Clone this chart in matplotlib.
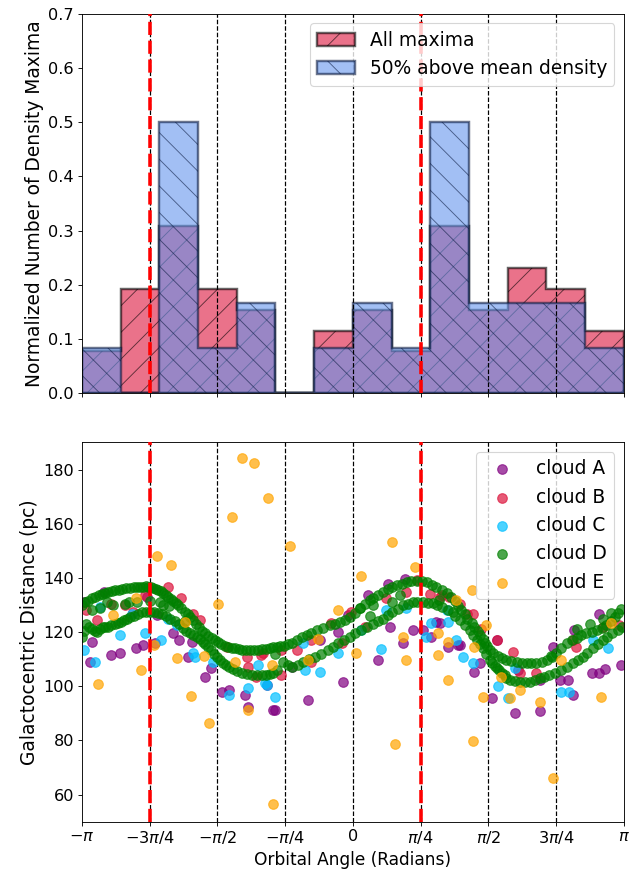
import numpy as np
import matplotlib
matplotlib.use("Agg")
import matplotlib.pyplot as plt

# histogram of density maxima (14 bins from -pi to pi)
all_maxima = [0.077, 0.192, 0.308, 0.192, 0.154, 0.0, 0.115,
              0.154, 0.077, 0.308, 0.154, 0.231, 0.192, 0.115]
above_mean = [0.083, 0.0, 0.5, 0.083, 0.167, 0.0, 0.083,
              0.167, 0.083, 0.5, 0.167, 0.167, 0.167, 0.083]

tick_labels = [r"$-\pi$", r"$-3\pi/4$", r"$-\pi/2$", r"$-\pi/4$", "0",
               r"$\pi/4$", r"$\pi/2$", r"$3\pi/4$", r"$\pi$"]
cloud_names = ["cloud A", "cloud B", "cloud C", "cloud D", "cloud E"]

# cloud A
a_x = [-3.12, -3.03, -3.05, -2.80, -2.70, -2.51, -2.43, -2.27, -2.29, -2.08,
       -2.02, -1.91, -1.87, -1.71, -1.64, -1.52, -1.44, -1.25, -1.21, -1.00,
       -0.92, -2.89, -2.39, -0.90, -0.71, -0.52, -0.38, -0.17, -0.11, -0.05,
       0.18, 0.29, 0.41, 0.43, 0.58, 0.70, 0.60, 0.81, 0.91, 0.97,
       1.10, 1.22, 1.24, 1.41, 1.47, 1.61, 1.67, 1.88, 1.92, 2.17,
       2.17, 2.32, 2.40, 2.49, 2.55, 2.57, 2.77, 2.86, 2.92, 2.86,
       3.11, 1.01]
a_y = [131.0, 116.4, 109.0, 111.5, 112.4, 114.0, 115.2, 126.2, 116.0, 119.5,
       117.0, 110.9, 116.4, 103.5, 106.6, 98.0, 98.6, 96.8, 92.5, 100.5,
       91.3, 134.8, 133.0, 91.3, 107.2, 95.0, 117.0, 120.0, 101.7, 126.2,
       133.6, 109.7, 137.9, 121.9, 115.8, 120.7, 139.7, 120.7, 118.2, 123.8,
       114.6, 115.2, 115.2, 105.4, 108.5, 95.6, 117.0, 90.1, 106.0, 90.7,
       102.3, 114.6, 102.3, 102.3, 96.8, 120.7, 104.8, 104.8, 106.3, 126.8,
       107.8, 123.2]

# cloud B
b_x = [-3.09, -2.97, -2.64, -2.41, -2.14, -1.99, -1.85, -1.77, -1.46, -1.21,
       -1.12, -1.06, -1.23, -1.04, -0.83, -0.83, -0.65, -0.48, -0.48, -0.25,
       -0.13, -0.02, 0.14, 0.39, 0.62, 0.74, 0.89, 1.03, 1.12, 1.24,
       1.32, 1.39, 1.49, 1.67, 1.86, 1.94, 2.13, 2.55, 2.59, 2.90,
       3.09, 1.01, -2.80, -2.55]
b_y = [128.0, 124.4, 129.9, 133.6, 136.6, 132.4, 126.8, 124.4, 114.6, 107.2,
       103.5, 111.5, 110.9, 112.1, 113.3, 104.2, 113.3, 109.0, 117.0, 123.2,
       115.8, 127.4, 121.9, 132.4, 134.8, 139.1, 134.2, 133.6, 132.9, 130.5,
       126.8, 126.8, 121.3, 117.0, 112.7, 104.8, 104.8, 117.0, 114.6, 121.9,
       122.5, 132.9, 130.5, 127.5]

# cloud C
c_x = [-3.12, -2.99, -2.93, -2.70, -2.56, -2.41, -2.22, -2.14, -2.04, -1.85,
       -1.83, -1.62, -1.44, -1.21, -1.10, -1.00, -0.90, -1.02, -0.56, -0.38,
       -0.17, -0.58, 0.10, 0.33, 0.39, 0.62, 0.85, 0.91, 1.10, 1.20,
       1.09, 1.28, 1.39, 1.68, 1.80, 1.88, 2.42, 2.51, 2.78, 2.96]
c_y = [113.3, 109.0, 129.3, 118.9, 126.8, 119.5, 117.0, 125.0, 122.5, 112.1,
       110.9, 109.0, 96.8, 99.3, 107.8, 100.5, 96.2, 101.1, 106.0, 105.4,
       112.4, 115.8, 120.7, 113.6, 128.0, 128.7, 118.2, 123.2, 123.8, 117.0,
       128.0, 110.9, 108.5, 99.9, 95.6, 106.6, 98.0, 98.0, 117.0, 114.0]

# cloud D, upper track
d_up_x = [-3.14, -3.11, -3.07, -3.02, -2.99, -2.94, -2.91, -2.87, -2.84, -2.79,
          -2.76, -2.71, -2.68, -2.63, -2.58, -2.54, -2.50, -2.47, -2.43, -2.40,
          -2.38, -2.34, -2.32, -2.28, -2.26, -2.22, -2.20, -2.17, -2.14, -2.11,
          -2.09, -2.05, -2.03, -1.99, -1.95, -1.91, -1.89, -1.85, -1.82, -1.78,
          -1.75, -1.71, -1.68, -1.63, -1.60, -1.56, -1.53, -1.48, -1.45, -1.40,
          -1.37, -1.32, -1.29, -1.24, -1.19, -1.15, -1.10, -1.05, -1.01, -0.96,
          -0.93, -0.88, -0.85, -0.80, -0.75, -0.71, -0.65, -0.59, -0.53, -0.48,
          -0.41, -0.34, -0.27, -0.21, -0.15, -0.09, -0.03, 0.02, 0.08, 0.14,
          0.20, 0.24, 0.29, 0.35, 0.41, 0.45, 0.51, 0.57, 0.63, 0.68,
          0.74, 0.80, 0.86, 0.92, 0.97, 1.03, 1.09, 1.14, 1.18, 1.22,
          1.26, 1.30, 1.33, 1.38, 1.41, 1.45, 1.47, 1.51, 1.53, 1.56,
          1.59, 1.63, 1.68, 1.73, 1.78, 1.84, 1.90, 1.96, 2.02, 2.07,
          2.13, 2.19, 2.25, 2.31, 2.36, 2.42, 2.48, 2.54, 2.60, 2.65,
          2.71, 2.77, 2.83, 2.89, 2.94, 2.99, 3.04, 3.07, 3.11]
d_up_y = [130.0, 131.0, 131.5, 132.5, 133.0, 133.5, 134.0, 134.5, 134.8, 135.0,
          135.4, 135.7, 136.0, 136.2, 136.3, 136.5, 136.6, 136.8, 136.8, 137.0,
          136.5, 136.5, 136.2, 136.0, 135.5, 135.0, 134.5, 133.8, 133.0, 132.2,
          131.5, 130.8, 130.0, 129.0, 127.5, 126.5, 125.5, 124.5, 123.0, 121.8,
          120.5, 119.5, 118.5, 117.8, 117.0, 116.2, 115.5, 115.0, 114.5, 114.2,
          114.0, 113.7, 113.5, 113.4, 113.3, 113.3, 113.4, 113.6, 113.8, 114.0,
          114.3, 114.5, 114.8, 115.0, 115.5, 116.0, 117.0, 118.0, 119.0, 119.8,
          120.7, 121.6, 122.5, 123.0, 123.6, 124.5, 125.5, 127.0, 128.8, 130.2,
          131.7, 132.7, 133.6, 134.8, 136.0, 136.6, 137.2, 137.8, 138.3, 138.7,
          139.0, 138.8, 138.3, 137.5, 136.5, 135.4, 134.3, 133.0, 131.5, 129.8,
          128.0, 126.5, 125.0, 123.5, 122.0, 120.5, 119.0, 117.5, 116.0, 114.7,
          113.5, 112.2, 111.0, 110.3, 109.7, 109.3, 109.0, 108.7, 108.5, 108.5,
          108.5, 109.0, 109.7, 110.8, 112.2, 114.0, 116.0, 117.0, 117.8, 118.8,
          119.6, 120.2, 120.7, 121.6, 122.5, 124.0, 125.5, 127.0, 128.5]

# cloud D, lower track
d_lo_x = [-3.14, -3.12, -3.09, -3.06, -3.02, -2.99, -2.97, -2.93, -2.90, -2.87,
          -2.84, -2.80, -2.76, -2.72, -2.69, -2.65, -2.62, -2.58, -2.54, -2.49,
          -2.45, -2.40, -2.35, -2.31, -2.26, -2.21, -2.17, -2.12, -2.06, -2.02,
          -1.97, -1.94, -1.89, -1.85, -1.81, -1.77, -1.74, -1.71, -1.68, -1.65,
          -1.61, -1.58, -1.54, -1.51, -1.47, -1.44, -1.39, -1.34, -1.29, -1.23,
          -1.17, -1.11, -1.05, -1.01, -0.96, -0.92, -0.88, -0.81, -0.75, -0.70,
          -0.64, -0.58, -0.51, -0.44, -0.37, -0.29, -0.23, -0.17, -0.10, -0.03,
          0.03, 0.10, 0.16, 0.23, 0.29, 0.35, 0.41, 0.46, 0.52, 0.58,
          0.64, 0.70, 0.75, 0.81, 0.87, 0.93, 0.98, 1.04, 1.10, 1.16,
          1.19, 1.24, 1.30, 1.36, 1.39, 1.44, 1.47, 1.51, 1.54, 1.59,
          1.61, 1.65, 1.67, 1.70, 1.73, 1.76, 1.78, 1.82, 1.88, 1.94,
          2.00, 2.05, 2.11, 2.17, 2.22, 2.28, 2.35, 2.42, 2.48, 2.55,
          2.61, 2.67, 2.72, 2.78, 2.84, 2.90, 2.95, 3.01, 3.07, 3.12]
d_lo_y = [118.0, 120.5, 123.0, 122.0, 121.0, 120.5, 120.0, 121.0, 122.0, 122.0,
          122.0, 122.5, 123.0, 123.3, 123.6, 124.3, 125.0, 125.5, 126.0, 126.6,
          127.3, 127.5, 127.5, 127.3, 127.0, 126.5, 126.0, 125.0, 124.0, 122.8,
          121.5, 120.5, 119.5, 118.8, 118.0, 117.3, 116.5, 115.5, 114.5, 113.2,
          112.0, 110.7, 109.5, 108.7, 108.0, 107.2, 106.5, 105.8, 105.0, 104.5,
          104.0, 104.0, 104.0, 104.2, 104.5, 105.0, 106.0, 109.0, 108.0, 107.0,
          108.0, 109.0, 110.0, 110.8, 112.0, 113.3, 114.6, 116.0, 117.0, 118.2,
          119.5, 120.7, 121.8, 122.9, 124.0, 125.0, 126.2, 127.3, 128.6, 129.9,
          130.5, 131.0, 131.0, 131.0, 130.8, 130.6, 130.0, 129.2, 128.3, 127.3,
          126.0, 124.4, 122.5, 120.7, 119.0, 117.0, 115.5, 114.0, 112.0, 109.7,
          108.6, 107.5, 106.8, 106.0, 105.0, 104.0, 103.0, 102.3, 102.0, 101.6,
          101.6, 101.6, 102.3, 103.0, 103.5, 104.0, 105.0, 106.0, 107.2, 108.5,
          109.7, 110.8, 112.4, 114.0, 115.5, 117.0, 118.3, 119.6, 120.7, 121.8]

# cloud D, loose points between the tracks
d_mid_x = [-3.02, -2.93, -2.85, -2.78, -2.64, -2.60, -2.50, -2.35, -2.24, -2.20,
           -2.13, -1.95, -0.90, 0.08, 0.20, 0.23, 0.46, 0.55, 1.00, 2.30,
           2.60, 2.75, 2.90, 3.00]
d_mid_y = [128.0, 129.0, 131.0, 130.0, 130.5, 131.0, 131.0, 131.5, 131.0, 130.0,
           129.5, 124.0, 112.0, 128.8, 126.0, 129.9, 131.0, 133.5, 132.0, 111.0,
           121.0, 123.0, 125.0, 127.0]

d_x = d_up_x + d_lo_x + d_mid_x
d_y = d_up_y + d_lo_y + d_mid_y

# cloud E
e_x = [-1.29, -1.14, -1.40, -0.98, -2.27, -2.11, -2.51, -2.78, -2.96, -2.46,
       -2.31, -2.04, -1.95, -1.88, -1.72, -1.67, -1.56, -1.37, -1.21, -0.94,
       -0.92, -0.73, -0.52, -0.40, -0.17, 0.04, 0.10, 0.45, 0.49, 0.58,
       0.62, 0.72, 0.99, 0.99, 1.10, 1.10, 1.20, 1.38, 1.41, 1.51,
       1.55, 1.39, 1.72, 1.82, 1.94, 2.17, 2.32, 2.42, 2.88, 3.00]
e_y = [184.3, 182.4, 162.3, 169.6, 147.9, 144.6, 132.4, 126.2, 100.7, 106.0,
       115.2, 110.3, 123.8, 96.4, 111.1, 86.6, 130.5, 109.0, 91.3, 107.8,
       56.5, 151.9, 109.7, 117.6, 128.3, 112.1, 140.6, 153.2, 78.8, 118.2,
       109.7, 144.2, 119.5, 111.5, 102.3, 116.4, 131.7, 135.4, 114.6, 96.2,
       122.5, 79.6, 103.5, 95.6, 98.6, 94.3, 66.2, 109.7, 96.2, 123.2]

plt.rcParams["font.size"] = 14.5
plt.rcParams["hatch.linewidth"] = 0.8

fig, (ax1, ax2) = plt.subplots(2, 1, figsize=(7.875, 10.9375), dpi=80, sharex=True)
fig.subplots_adjust(left=0.13, right=0.99, top=0.984, bottom=0.061, hspace=0.13)

edges = np.linspace(-np.pi, np.pi, len(all_maxima) + 1)
centers = 0.5 * (edges[:-1] + edges[1:])
ticks = np.linspace(-np.pi, np.pi, 9)

# top panel
ax1.hist(centers, bins=edges, weights=all_maxima, histtype="stepfilled",
         color="crimson", alpha=0.6, edgecolor="k", linewidth=2.2, hatch="/",
         label="All maxima")
ax1.hist(centers, bins=edges, weights=above_mean, histtype="stepfilled",
         color="cornflowerblue", alpha=0.6, edgecolor="#0a1a40", linewidth=2.2,
         hatch="\\", label="50% above mean density")
for t in ticks[1:-1]:
    ax1.axvline(t, color="k", ls="--", lw=1.1, zorder=3)
for t in [ticks[1], ticks[5]]:
    ax1.axvline(t, color="red", ls="--", lw=3.2, zorder=4)
ax1.set_ylim(0, 0.7)
ax1.set_ylabel("Normalized Number of Density Maxima", fontsize=16.8)
ax1.legend(loc="upper right", fontsize=16.8)

# bottom panel
colors = ["purple", "crimson", "deepskyblue", "green", "orange"]
xs = [a_x, b_x, c_x, d_x, e_x]
ys = [a_y, b_y, c_y, d_y, e_y]
for t in ticks[1:-1]:
    ax2.axvline(t, color="k", ls="--", lw=1.1, zorder=1)
for x, y, c, name in zip(xs, ys, colors, cloud_names):
    ax2.scatter(x, y, s=75, color=c, alpha=0.7, label=name, zorder=2)
for t in [ticks[1], ticks[5]]:
    ax2.axvline(t, color="red", ls="--", lw=3.2, zorder=4)
ax2.set_ylim(50, 190)
ax2.set_xlim(-np.pi, np.pi)
ax2.set_xticks(ticks)
ax2.set_xticklabels(tick_labels)
ax2.set_xlabel("Orbital Angle (Radians)", fontsize=15.3)
ax2.set_ylabel("Galactocentric Distance (pc)", fontsize=16.8)
ax2.legend(loc="upper right", scatterpoints=1, fontsize=16.8)

fig.savefig("out.png", dpi=80)
